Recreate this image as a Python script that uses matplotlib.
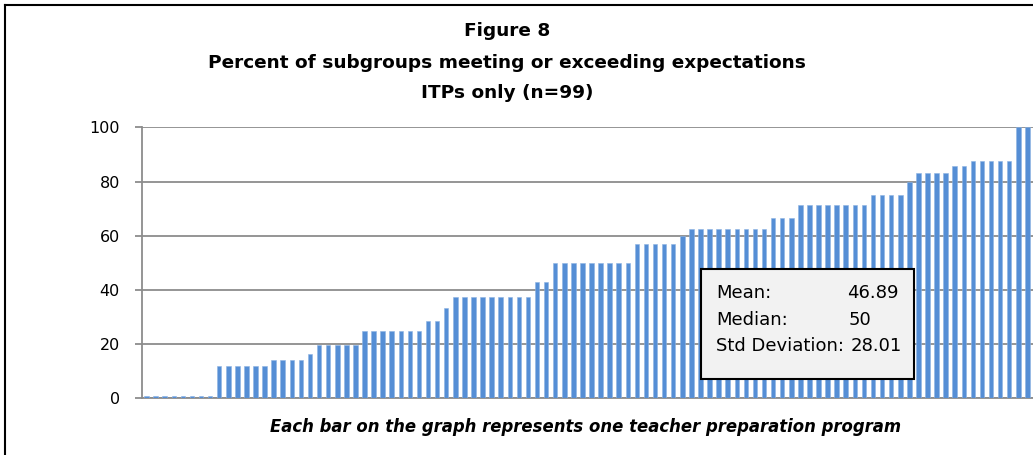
import numpy as np
import matplotlib
matplotlib.use('Agg')
import matplotlib.pyplot as plt
from matplotlib.patches import Rectangle
from matplotlib.lines import Line2D

plt.rcParams['font.family'] = ['DejaVu Sans']

# percent of subgroups meeting/exceeding expectations, one value per ITP (sorted)
pct = [
    0.7, 0.7, 0.7, 0.7, 0.7, 0.7, 0.7, 0.7,
    12.0, 12.0, 12.0, 12.0, 11.8, 11.8,
    14.2, 14.2, 14.2, 14.2,
    16.5,
    19.8, 19.8, 19.8, 19.8, 19.8,
    24.8, 24.8, 24.8, 24.8, 24.8, 24.8, 24.8,
    28.5, 28.5,
    33.3,
    37.2, 37.2, 37.2, 37.2, 37.2, 37.2, 37.2, 37.2, 37.2,
    42.8, 42.8,
    50.0, 50.0, 50.0, 50.0, 50.0, 50.0, 50.0, 50.0, 50.0,
    57.1, 57.1, 57.1, 57.1, 57.1,
    60.0,
    62.3, 62.3, 62.3, 62.3, 62.3, 62.3, 62.3, 62.3, 62.3,
    66.6, 66.6, 66.6,
    71.4, 71.4, 71.4, 71.4, 71.4, 71.4, 71.4, 71.4,
    75.0, 75.0, 75.0, 75.0,
    80.0,
    83.3, 83.3, 83.3, 83.3,
    85.7, 85.7,
    87.5, 87.5, 87.5, 87.5, 87.5,
    100.0, 100.0, 100.0,
]
yticks = [0, 20, 40, 60, 80, 100]
title_lines = ["Figure 8",
               "Percent of subgroups meeting or exceeding expectations",
               "ITPs only (n=99)"]
stat_names = ["Mean:", "Median:", "Std Deviation:"]
stat_values = ["46.89", "50", "28.01"]
caption = "Each bar on the graph represents one teacher preparation program"

W, H = 1033, 455
fig = plt.figure(figsize=(W / 100, H / 100), dpi=100)

def fx(px):
    return px / W

def fy(py):
    return 1 - py / H

ax = fig.add_axes([fx(142), fy(398.3), fx(1041 - 142), (398.3 - 127.3) / H])
x = np.arange(len(pct))
ax.bar(x, pct, width=0.5, color='#558ed5', edgecolor='#8db3e2', linewidth=0.4, zorder=3)
ax.set_xlim(-0.5, len(pct) - 0.5)
ax.set_ylim(0, 100)
ax.set_yticks(yticks)
ax.set_xticks([])
ax.grid(axis='y', color='#8c8c8c', linewidth=1.3, zorder=0)
for s in ['top', 'right']:
    ax.spines[s].set_visible(False)
for s in ['left', 'bottom']:
    ax.spines[s].set_color('#8c8c8c')
    ax.spines[s].set_linewidth(1.3)
ax.tick_params(axis='y', length=5, width=1.3, color='#8c8c8c', pad=11,
               labelsize=11.5, labelcolor='black')

# title
for line, ypx in zip(title_lines, [31, 63, 93.5]):
    fig.text(fx(507), fy(ypx), line, ha='center', va='center',
             fontsize=13.3, fontweight='bold')

# caption
fig.text(fx(586), fy(427), caption, ha='center', va='center',
         fontsize=11.9, fontweight='bold', style='italic')

# stats box
fig.patches.append(Rectangle((fx(701), fy(379)), fx(213), 110 / H,
                             transform=fig.transFigure, facecolor='#f2f2f2',
                             edgecolor='black', linewidth=1.5, zorder=5))
for name, val, ypx, vx in zip(stat_names, stat_values, [293, 320, 346], [847, 849, 851]):
    fig.text(fx(716), fy(ypx), name, ha='left', va='center', fontsize=13, zorder=6)
    fig.text(fx(vx), fy(ypx), val, ha='left', va='center', fontsize=13, zorder=6)

# chart border (left and top edges visible)
fig.add_artist(Line2D([fx(5), fx(5)], [0, fy(5)], color='black', linewidth=1.5,
                      transform=fig.transFigure))
fig.add_artist(Line2D([fx(5), 1], [fy(5), fy(5)], color='black', linewidth=1.5,
                      transform=fig.transFigure))

fig.savefig('out.png', dpi=100)
